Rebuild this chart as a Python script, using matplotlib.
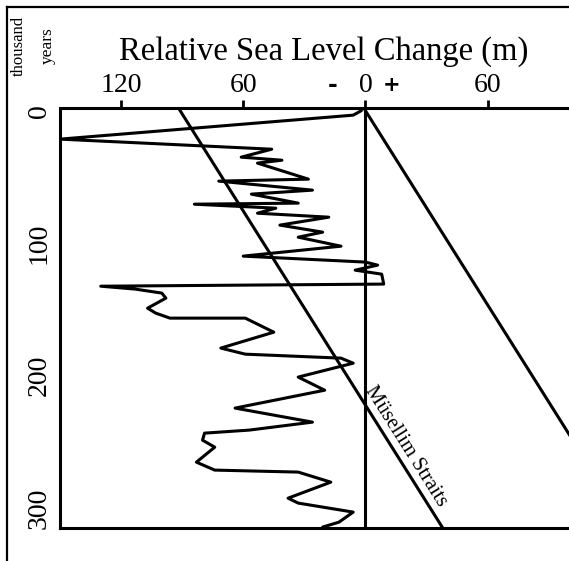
import numpy as np
import matplotlib.pyplot as plt
from matplotlib.lines import Line2D

plt.rcParams['font.family'] = ['Liberation Serif', 'DejaVu Serif']

# sea level curve: relative sea level (m) vs age (thousand years)
sea_level_m = [-2, -6, -150, -46, -61, -41, -53, -28, -72, -26, -56, -33, -84, -44,
               -53, -18, -42, -21, -33, -12, -60, 0, 6, -5, 8, 9, -130, -113, -100,
               -98, -107, -103, -96, -59, -45, -71, -59, -12, -6, -33, -20, -64, -26,
               -57, -79, -80, -74, -83, -74, -33, -17, -38, -33, -6, -13, -21]
age_kyr = [0, 3.4, 21.5, 29.1, 35.1, 37.4, 39.6, 51.7, 53.2, 60.0, 63.0, 69.8, 70.6,
           73.6, 77.4, 80.4, 86.4, 91.7, 95.5, 102.3, 109.8, 114.3, 116.6, 120.4, 123.4,
           130.9, 132.5, 134.7, 137.7, 141.5, 149.1, 152.8, 156.6, 156.6, 167.2, 179.2,
           183.8, 186.8, 190.6, 201.1, 211.0, 224.5, 235.1, 241.1, 243.4, 248.7, 254.0,
           265.3, 271.3, 272.8, 280.4, 292.5, 296.2, 303.0, 310.6, 314.3]

# straight lines (m, kyr)
straits_m = [-91, 38]
straits_kyr = [0, 315]
uplift_m = [0, 129]
uplift_kyr = [0, 315]

x_ticks = [-120, -60, 0, 60]
x_tick_labels = ["120", "60", "0", "60"]
y_ticks = [0, 100, 200, 300]
y_tick_labels = ["0", "100", "200", "300"]

W, H = 569, 561
fig = plt.figure(figsize=(W / 100, H / 100), dpi=100)
ax = fig.add_axes([60 / W, 33 / H, (W - 60) / W, 420 / H])

lw = 2.2
ax.plot(sea_level_m, age_kyr, color="black", lw=lw, solid_joinstyle="round",
        solid_capstyle="round")
ax.plot(straits_m, straits_kyr, color="black", lw=lw)
ax.plot(uplift_m, uplift_kyr, color="black", lw=lw)
ax.axvline(0, color="black", lw=lw)

ax.set_xlim(-150, 100)
ax.set_ylim(315, -2)

ax.xaxis.tick_top()
ax.set_xticks(x_ticks)
ax.set_xticklabels(x_tick_labels)
ax.tick_params(axis="x", direction="out", length=6, width=2, pad=1, labelsize=20)
ax.set_yticks(y_ticks)
ax.set_yticklabels(y_tick_labels, rotation=90, va="center")
ax.tick_params(axis="y", length=0, pad=6, labelsize=20)

for side in ["top", "left", "bottom"]:
    ax.spines[side].set_linewidth(lw)
ax.spines["right"].set_visible(False)

# sign markers either side of zero
ax.text(-16, -19, "-", fontsize=17, fontweight="bold", family="DejaVu Sans",
        ha="center", va="center", clip_on=False)
ax.text(13, -19, "+", fontsize=15, fontweight="bold", family="DejaVu Sans",
        ha="center", va="center", clip_on=False)

fig.text(324 / W, 1 - 52 / H, "Relative Sea Level Change (m)", fontsize=23.5,
         ha="center", va="center")
fig.text(19 / W, 1 - 46 / H, "thousand", fontsize=12, rotation=90,
         ha="center", va="center")
fig.text(48 / W, 1 - 46 / H, "years", fontsize=12.5, rotation=90,
         ha="center", va="center")

# label along the straits line
p0 = ax.transData.transform((straits_m[0], straits_kyr[0]))
p1 = ax.transData.transform((straits_m[1], straits_kyr[1]))
angle = np.degrees(np.arctan2(p1[1] - p0[1], p1[0] - p0[0]))
ax.text(20, 253, "Müsellim Straits", fontsize=15, rotation=angle,
        rotation_mode="anchor", ha="center", va="center")

# outer frame
fig.add_artist(Line2D([7 / W, 7 / W], [0, 1 - 7 / H], color="black", lw=1.6))
fig.add_artist(Line2D([7 / W, 1], [1 - 7 / H, 1 - 7 / H], color="black", lw=1.6))

fig.savefig("out.png", dpi=100)
